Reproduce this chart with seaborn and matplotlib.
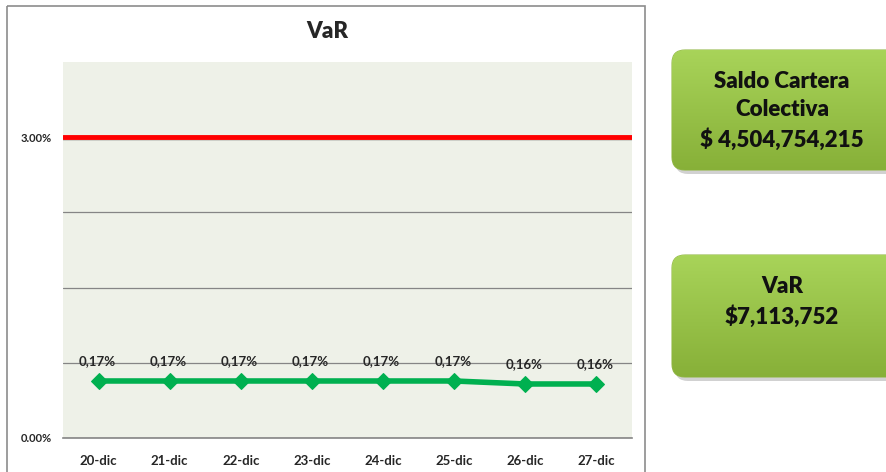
import numpy as np
import matplotlib.pyplot as plt
import matplotlib.patheffects as pe
from matplotlib.patches import FancyBboxPatch, Rectangle
import seaborn as sns

# Data
dates = ["20-dic", "21-dic", "22-dic", "23-dic", "24-dic", "25-dic", "26-dic", "27-dic"]
var_pct = [0.17, 0.17, 0.17, 0.17, 0.17, 0.17, 0.16, 0.16]
limit_pct = 3.00
y_tick_values = [0.0, 0.75, 1.5, 2.25, 3.0]
y_tick_labels = ["0.00%", "", "", "", "3.00%"]
box_texts = ["Saldo Cartera\nColectiva\n$ 4,504,754,215", "VaR\n$7,113,752"]

sns.set_style("white")
plt.rcParams["font.family"] = ["Lato", "DejaVu Sans"]

W, H = 886, 472
fig = plt.figure(figsize=(W / 100, H / 100), dpi=100)

# overlay in pixel coordinates for frame and boxes
over = fig.add_axes([0, 0, 1, 1], zorder=0)
over.axis("off")
over.add_patch(Rectangle((7, 6), 638, 480, fill=False, edgecolor="#8c8c8c", lw=1.2))

# main chart
ax = fig.add_axes([63 / W, (H - 438) / H, 569 / W, 376 / H], zorder=2)
ax.set_facecolor("#EEF1E8")
ax.set_xlim(-0.5, len(dates) - 0.5)
ax.set_ylim(0, 3.75)
ax.set_yticks(y_tick_values)
ax.set_yticklabels(y_tick_labels, fontsize=8, fontweight="bold")
ax.yaxis.grid(True, color="#858585", lw=0.9)
ax.set_axisbelow(True)
ax.set_xticks(range(len(dates)))
ax.set_xticklabels(dates, fontsize=9.5, fontweight="bold")
ax.set_xticks(np.arange(0.5, len(dates), 1.0), minor=True)
ax.tick_params(axis="x", which="major", length=0, pad=12)
ax.tick_params(axis="x", which="minor", length=5, color="#858585", width=1)
ax.tick_params(axis="y", length=0, pad=8)
for side in ["top", "left", "right"]:
    ax.spines[side].set_visible(False)
ax.spines["bottom"].set_color("#858585")
ax.spines["bottom"].set_linewidth(1.2)

ax.axhline(
    limit_pct,
    color="#FF0000",
    lw=3.5,
    zorder=3,
    path_effects=[pe.SimpleLineShadow(offset=(0.3, -0.8), alpha=0.15), pe.Normal()],
)

# VaR series on hidden secondary scale
ax2 = ax.twinx()
ax2.set_ylim(-0.02, 1.233)
sns.lineplot(
    x=np.arange(len(dates)),
    y=var_pct,
    ax=ax2,
    color="#00B050",
    lw=4,
    marker="D",
    markersize=8,
    markeredgecolor="#00B050",
)
for i, v in enumerate(var_pct):
    ax2.annotate(
        f"{v:.2f}%".replace(".", ","),
        (i, v),
        xytext=(-1, 14.5),
        textcoords="offset points",
        ha="center",
        va="center",
        fontsize=9.5,
        fontweight="bold",
    )
ax2.set_yticks([])
ax2.set_ylabel("")
for side in ["top", "left", "right", "bottom"]:
    ax2.spines[side].set_visible(False)

fig.text(327 / W, 1 - 32 / H, "VaR", ha="center", va="center", fontsize=16, fontweight="heavy")

# side boxes with gradient and shadow
boxes = [(672, 50, 240, 120), (672, 255, 240, 122)]
text_y = [111, 302]
grad = np.linspace(0, 1, 256)[:, None]
top = np.array([0.66, 0.83, 0.35])
bot = np.array([0.53, 0.69, 0.22])
img = (top[None, None, :] * (1 - grad[..., None]) + bot[None, None, :] * grad[..., None])
img = np.repeat(img, 2, axis=1)
for (bx, by, bw, bh), ty, txt in zip(boxes, text_y, box_texts):
    shadow = FancyBboxPatch(
        (bx + 3, by + 4), bw, bh,
        boxstyle="round,pad=0,rounding_size=13",
        facecolor="#000000", alpha=0.18, edgecolor="none",
    )
    over.add_patch(shadow)
    patch = FancyBboxPatch(
        (bx, by), bw, bh,
        boxstyle="round,pad=0,rounding_size=13",
        facecolor="none", edgecolor="#94B84A", lw=0.8,
    )
    over.add_patch(patch)
    im = over.imshow(img, extent=(bx, bx + bw, by + bh, by), aspect="auto", zorder=1)
    im.set_clip_path(patch)
    over.text(
        782, ty, txt, ha="center", va="center",
        fontsize=16, fontweight="heavy", color="#111111", linespacing=1.45, zorder=3,
    )
over.set_xlim(0, W)
over.set_ylim(H, 0)

fig.savefig("out.png", dpi=100)
